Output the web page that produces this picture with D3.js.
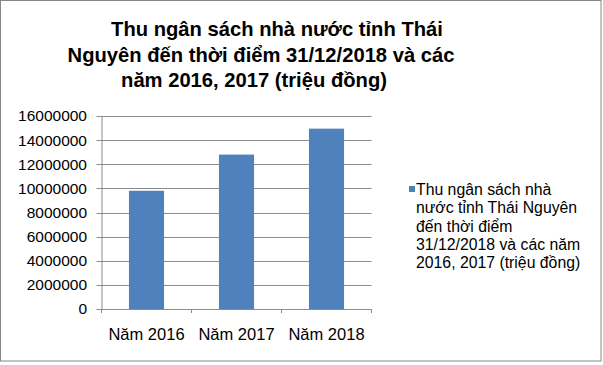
<!DOCTYPE html>
<html>
<head>
<meta charset="utf-8">
<script src="https://cdn.jsdelivr.net/npm/d3@7"></script>
<style>
  html, body { margin: 0; padding: 0; background: #fff; }
  svg { display: block; font-family: "Liberation Sans", Arial, sans-serif; }
</style>
</head>
<body>
<script>
// data
var categories = [ "Năm 2016", "Năm 2017", "Năm 2018" ];
var values = [ 9800000, 12800000, 14950000 ];
var yTicks = [ 0, 2000000, 4000000, 6000000, 8000000, 10000000, 12000000, 14000000, 16000000 ];
var titleLines = [ "Thu ngân sách nhà nước tỉnh Thái", "Nguyên đến thời điểm 31/12/2018 và các", "năm 2016, 2017 (triệu đồng)" ];
var legendLines = [ "Thu ngân sách nhà", "nước tỉnh Thái Nguyên", "đến thời điểm", "31/12/2018 và các năm", "2016, 2017 (triệu đồng)" ];

var width = 603, height = 365;
var plotLeft = 101.5, plotRight = 371.5, plotTop = 116, plotBottom = 309;
var barColor = "#4f81bd", gridColor = "#8c8c8c";

var svg = d3.select( "body" ).append( "svg" )
	.attr( "width", width )
	.attr( "height", height );

// outer frame
svg.append( "rect" )
	.attr( "x", 0.5 ).attr( "y", 0.5 )
	.attr( "width", 600.5 ).attr( "height", 360.5 )
	.attr( "fill", "#fff" )
	.attr( "stroke", "#868686" );

var xScale = d3.scaleBand()
	.domain( categories )
	.range( [ plotLeft, plotRight ] )
	.paddingInner( 0.61 )
	.paddingOuter( 0.305 );

var yScale = d3.scaleLinear()
	.domain( [ 0, 16000000 ] )
	.range( [ plotBottom, plotTop ] );

// gridlines
svg.append( "g" )
	.selectAll( "line" )
	.data( yTicks )
	.join( "line" )
	.attr( "x1", plotLeft - 5 )
	.attr( "x2", plotRight )
	.attr( "y1", d => Math.round( yScale( d ) ) + 0.5 )
	.attr( "y2", d => Math.round( yScale( d ) ) + 0.5 )
	.attr( "stroke", gridColor );

// y axis
svg.append( "g" )
	.attr( "transform", `translate(${ plotLeft }, 0)` )
	.call( d3.axisLeft( yScale ).tickValues( yTicks ).tickSize( 0 ).tickPadding( 14.5 ).tickFormat( d3.format( "d" ) ) )
	.call( g => g.select( ".domain" ).attr( "stroke", gridColor ) )
	.selectAll( "text" )
	.attr( "font-family", "Liberation Sans, Arial, sans-serif" )
	.attr( "font-size", "15.5px" )
	.attr( "fill", "#000" );

// bars
svg.append( "g" )
	.selectAll( "rect" )
	.data( values )
	.join( "rect" )
	.attr( "x", ( d, i ) => xScale( categories[ i ] ) )
	.attr( "y", d => yScale( d ) )
	.attr( "width", xScale.bandwidth() )
	.attr( "height", d => yScale( 0 ) - yScale( d ) )
	.attr( "fill", barColor );

// x axis
var step = xScale.step();
svg.append( "g" )
	.attr( "transform", `translate(0, ${ plotBottom })` )
	.call( d3.axisBottom( xScale ).tickSize( 0 ).tickPadding( 19 ) )
	.call( g => g.select( ".domain" ).attr( "stroke", gridColor ) )
	.selectAll( "text" )
	.attr( "font-family", "Liberation Sans, Arial, sans-serif" )
	.attr( "font-size", "16.5px" )
	.attr( "fill", "#000" );

svg.append( "g" )
	.selectAll( "line" )
	.data( d3.range( categories.length + 1 ) )
	.join( "line" )
	.attr( "x1", i => plotLeft + i * step )
	.attr( "x2", i => plotLeft + i * step )
	.attr( "y1", plotBottom )
	.attr( "y2", plotBottom + 4 )
	.attr( "stroke", gridColor );

// title
var titleX = [ 277, 261, 254 ];
svg.append( "g" )
	.selectAll( "text" )
	.data( titleLines )
	.join( "text" )
	.attr( "x", ( d, i ) => titleX[ i ] )
	.attr( "y", ( d, i ) => 36 + i * 25.5 )
	.attr( "text-anchor", "middle" )
	.attr( "font-weight", "bold" )
	.attr( "font-size", "20.2px" )
	.text( d => d );

// legend
svg.append( "rect" )
	.attr( "x", 409 ).attr( "y", 186 )
	.attr( "width", 6 ).attr( "height", 6 )
	.attr( "fill", barColor );

svg.append( "g" )
	.selectAll( "text" )
	.data( legendLines )
	.join( "text" )
	.attr( "x", 416 )
	.attr( "y", ( d, i ) => 195 + i * 18.3 )
	.attr( "font-size", "15.8px" )
	.text( d => d );
</script>
</body>
</html>
